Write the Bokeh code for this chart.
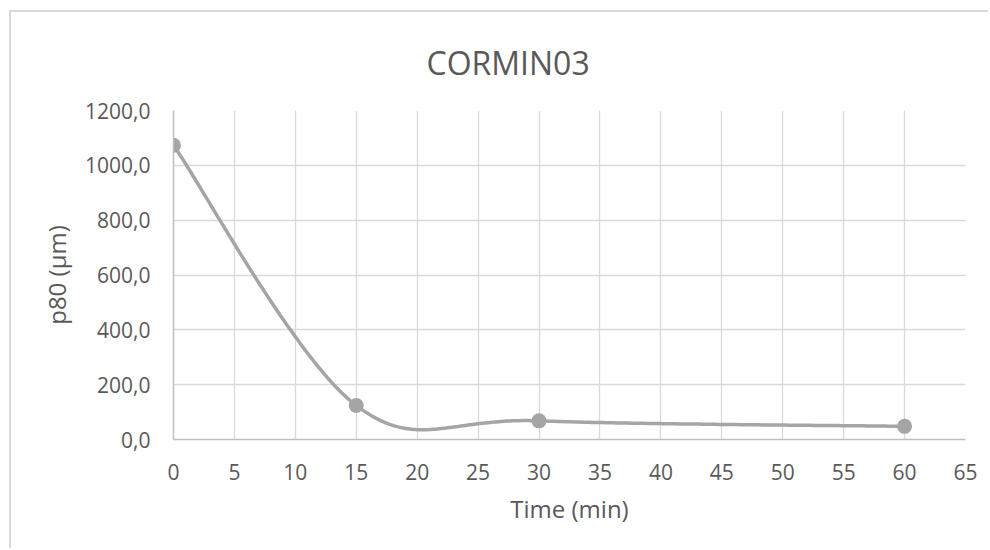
import numpy as np
from bokeh.plotting import figure
from bokeh.models import FixedTicker, Range1d
from bokeh.embed import file_html
from bokeh.resources import INLINE

title_text = "CORMIN03"
x_label = "Time (min)"
y_label = "p80 (µm)"
time_min = [0, 15, 30, 60]
p80_um = [1073.0, 124.0, 68.0, 48.0]
x_ticks = [0, 5, 10, 15, 20, 25, 30, 35, 40, 45, 50, 55, 60, 65]
y_ticks = [0, 200, 400, 600, 800, 1000, 1200]
y_tick_labels = ["0,0", "200,0", "400,0", "600,0", "800,0", "1000,0", "1200,0"]

FONT = "Open Sans"
TXT = "#595959"
LINE = "#a5a5a5"
GRID = "#d9d9d9"

W, H = 979, 538
ML, MR, MT, MB = 162, 25, 97, 111
fw, fh = W - ML - MR, H - MT - MB

p = figure(width=W, height=H, output_backend="svg", toolbar_location=None,
           x_range=Range1d(0, 65), y_range=Range1d(0, 1200),
           min_border_left=ML, min_border_right=MR, min_border_top=MT, min_border_bottom=MB)
p.outline_line_color = None
p.background_fill_color = "white"
p.border_fill_color = "white"
p.styles = {"border-left": "2px solid #d9d9d9", "border-top": "2px solid #d9d9d9",
            "margin-left": "9px", "margin-top": "10px"}

# smooth curve (Excel-like Bezier smoothing computed in pixel space)
kx = fw / 65.0
ky = fh / 1200.0
def smooth(xs, ys, n=80):
    P = np.column_stack([np.array(xs, float) * kx, np.array(ys, float) * ky])
    out = []
    for i in range(len(P) - 1):
        p0 = P[i - 1] if i > 0 else P[i]
        p1 = P[i]
        p2 = P[i + 1]
        p3 = P[i + 2] if i + 2 < len(P) else P[i + 1]
        c1 = p1 + (p2 - p0) / 6.0
        c2 = p2 - (p3 - p1) / 6.0
        t = np.linspace(0, 1, n)[:, None]
        seg = (1 - t) ** 3 * p1 + 3 * (1 - t) ** 2 * t * c1 + 3 * (1 - t) * t ** 2 * c2 + t ** 3 * p2
        out.append(seg if i == 0 else seg[1:])
    pts = np.vstack(out)
    return pts[:, 0] / kx, pts[:, 1] / ky

sx, sy = smooth(time_min, p80_um)
p.line(sx, sy, line_color=LINE, line_width=3.5, line_cap="round", line_join="round")
p.scatter(time_min, p80_um, size=15, fill_color=LINE, line_color=None)

# axes
for ax in (p.xaxis[0], p.yaxis[0]):
    ax.major_tick_line_color = None
    ax.minor_tick_line_color = None
    ax.axis_line_color = "#bfbfbf"
    ax.axis_line_width = 1.5
    ax.major_label_text_font = FONT
    ax.major_label_text_font_size = "21px"
    ax.major_label_text_color = TXT
    ax.axis_label_text_font = FONT
    ax.axis_label_text_font_size = "24px"
    ax.axis_label_text_font_style = "normal"
    ax.axis_label_text_color = TXT

p.xaxis.ticker = FixedTicker(ticks=x_ticks)
p.yaxis.ticker = FixedTicker(ticks=y_ticks)
p.yaxis.major_label_overrides = {t: s for t, s in zip(y_ticks, y_tick_labels)}
p.xaxis.axis_label = x_label
p.yaxis.axis_label = y_label
p.xaxis.major_label_standoff = 18
p.yaxis.major_label_standoff = 17
p.xaxis.axis_label_standoff = 9
p.yaxis.axis_label_standoff = 9

p.xgrid.ticker = FixedTicker(ticks=x_ticks)
p.ygrid.ticker = FixedTicker(ticks=y_ticks)
p.xgrid.grid_line_color = GRID
p.ygrid.grid_line_color = GRID
p.xgrid.grid_line_width = 1.3
p.ygrid.grid_line_width = 1.3

# title
p.title.text = title_text
p.title.align = "left"
p.title.offset = 253
p.title.standoff = 53
p.title.text_font = FONT
p.title.text_font_size = "32px"
p.title.text_font_style = "normal"
p.title.text_color = TXT

open("out.html", "w").write(file_html(p, INLINE))
